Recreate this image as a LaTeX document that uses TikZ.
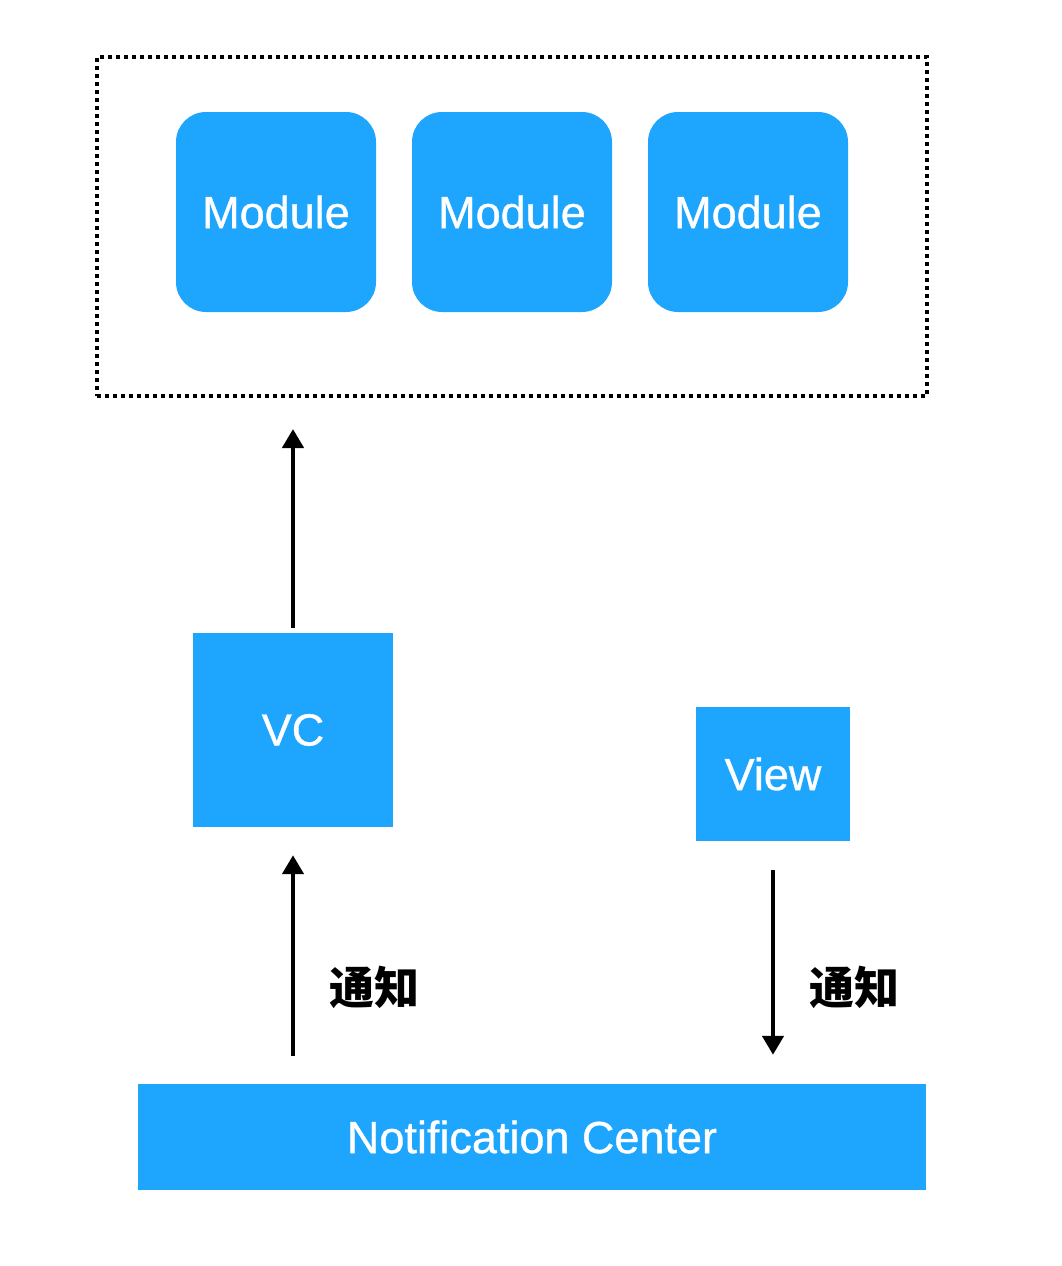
\documentclass[tikz,border=0pt]{standalone}
\usepackage{fontspec}
\usepackage{tikz}
\usetikzlibrary{arrows.meta}
\setmainfont{Liberation Sans}
\newfontfamily\medsans{Liberation Sans}[FakeBold=0.8]
\newfontfamily\cjk{Noto Sans CJK SC}
\definecolor{appblue}{RGB}{30,165,253}

\begin{document}
\begin{tikzpicture}
            [
                x=1pt, y=-1pt,
                every node/.style={
                    inner sep=0pt, text=white,
                    font=\fontsize{45}{54}\selectfont\medsans
                },
                module/.style={fill=appblue, rounded corners=30pt,
                    minimum width=200pt, minimum height=200pt},
                blockbox/.style={fill=appblue},
                arr/.style={line width=4.5pt, -{Triangle[length=19pt,width=21pt]}},
                tongzhi/.style={text=black, font=\fontsize{45}{54}\selectfont\cjk\bfseries}
            ]
            \useasboundingbox (0,0) rectangle (1062,1266);

            % top group
            \node (frame) [draw, line width=4pt, dash pattern=on 4pt off 4pt,
                minimum width=830pt, minimum height=339pt] at (512,226.5) {};
            \node (mod1) [module] at (276,212) {Module};
            \node (mod2) [module] at (512,212) {Module};
            \node (mod3) [module] at (748,212) {Module};

            % middle
            \node (vc) [blockbox, minimum width=200pt, minimum height=194pt]
                at (293,730) {VC};
            \node (view) [blockbox, minimum width=154pt, minimum height=134pt]
                at (773,774) {View};

            % bottom
            \node (nc) [blockbox, minimum width=788pt, minimum height=106pt]
                at (532,1137) {Notification Center};

            % arrows
            \draw [arr, shorten <=5pt, shorten >=31pt] (vc.north) -- (vc.north |- frame.south);
            \draw [arr, shorten <=28pt, shorten >=28pt] (vc.south |- nc.north) -- (vc.south);
            \draw [arr, shorten <=29pt, shorten >=29pt] (view.south) -- (view.south |- nc.north);

            \node (lbl1) [tongzhi] at (374,987) {通知};
            \node (lbl2) [tongzhi] at (854,987) {通知};
\end{tikzpicture}
\end{document}
